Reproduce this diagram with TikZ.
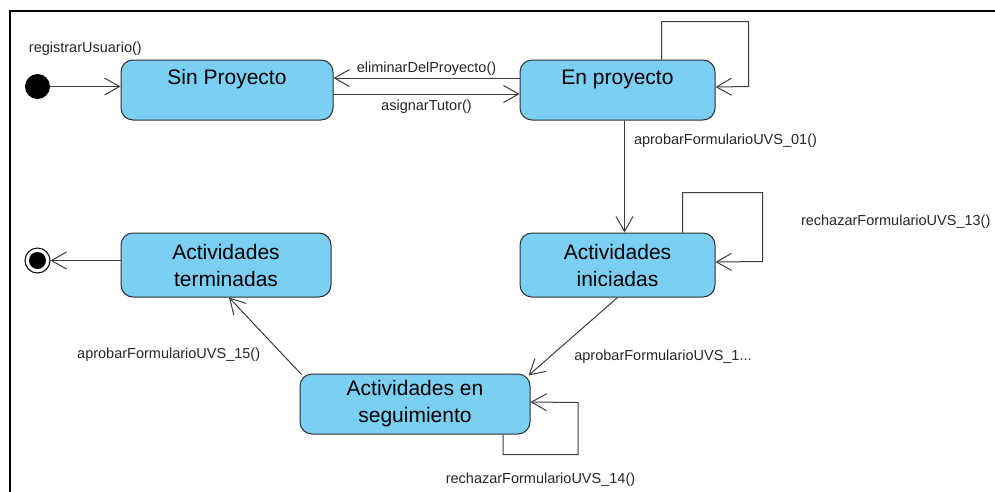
\documentclass[tikz,border=0pt]{standalone}
\usepackage{fontspec}
\setmainfont{Liberation Sans}
\usepackage{tikz}
\definecolor{statefill}{RGB}{122,207,243}
\definecolor{stateline}{RGB}{45,45,45}
\definecolor{edgeline}{RGB}{60,60,60}
\usetikzlibrary{arrows.meta}

\begin{document}
\begin{tikzpicture}[x=1pt,y=1pt,
        stbox/.style={draw=stateline, fill=statefill, line width=1pt, rounded corners=12pt,
            inner sep=0pt, align=center, font=\fontsize{21}{27}\selectfont},
        onerow/.style={text height=15pt, text depth=27pt},
        trans/.style={draw=edgeline, line width=1pt, -{Straight Barb[length=15pt,width=17pt]}},
        lbl/.style={font=\fontsize{14.5}{17}\selectfont, inner sep=2pt, text=black!85}]
        \useasboundingbox (0,0) rectangle (995,-491);
        \draw[line width=2.5pt] (10,-495) -- (10,-11) -- (1000,-11);

        \node[circle, fill=black, minimum size=25pt, inner sep=0pt] (ini) at (37.5,-86.5) {};
        \node[circle, draw, line width=1pt, fill=white, minimum size=25pt, inner sep=0pt] (fin) at (37.5,-260.5) {};
        \fill (fin.center) circle (8.5pt);

        \node[stbox, onerow, minimum width=212pt, minimum height=60pt] (sinp) at (227,-90) {Sin Proyecto};
        \node[stbox, onerow, minimum width=195pt, minimum height=60pt] (enp) at (617.5,-90) {En proyecto};
        \node[stbox, minimum width=195pt, minimum height=64pt] (acti) at (617.5,-265) {Actividades\\iniciadas};
        \node[stbox, minimum width=210pt, minimum height=64pt] (term) at (226,-265) {Actividades\\terminadas};
        \node[stbox, minimum width=230pt, minimum height=60pt] (segu) at (415,-404) {Actividades en\\seguimiento};

        \draw[trans] (ini) -- node[lbl, yshift=38pt] {registrarUsuario()} (ini -| sinp.west);
        \draw[trans] ([yshift=12pt]enp.west) -- node[lbl, above] {eliminarDelProyecto()} ([yshift=12pt]sinp.east);
        \draw[trans] ([yshift=-4pt]sinp.east) -- node[lbl, below=3pt] {asignarTutor()} ([yshift=-4pt]enp.west);
        \draw[trans] ([xshift=44pt]enp.north) -- ++(0,38) -| ++(87,-65) -- ([yshift=3pt]enp.east);
        \draw[trans] ([xshift=7pt]enp.south) -- node[lbl, pos=0.18, anchor=west, xshift=7pt] {aprobarFormularioUVS\_01()} ([xshift=7pt]acti.north);
        \draw[trans] ([xshift=65pt]acti.north) -- ++(0,40) -- ++(80,0)
            -- node[lbl, pos=0.42, anchor=west, xshift=36pt] {rechazarFormularioUVS\_13()} ++(0,-69) -- ([yshift=3pt]acti.east);
        \draw[trans] (acti.south) -- node[lbl, pos=0.76, anchor=west, xshift=22pt] {aprobarFormularioUVS\_1...} ([shift={(-2pt,-2pt)}]segu.north east);
        \draw[trans] ([shift={(2pt,-1pt)}]segu.north west) -- node[lbl, pos=0.26, anchor=east, xshift=-20pt] {aprobarFormularioUVS\_15()} ([xshift=3pt]term.south);
        \draw[trans] ([xshift=88pt]segu.south) -- ++(0,-20) -- node[lbl, below=16pt] {rechazarFormularioUVS\_14()} ++(75,0)
            -- ++(0,52) -- ([yshift=2pt]segu.east);
        \draw[trans] ([yshift=4.5pt]term.west) -- (fin);
    \end{tikzpicture}
\end{document}
